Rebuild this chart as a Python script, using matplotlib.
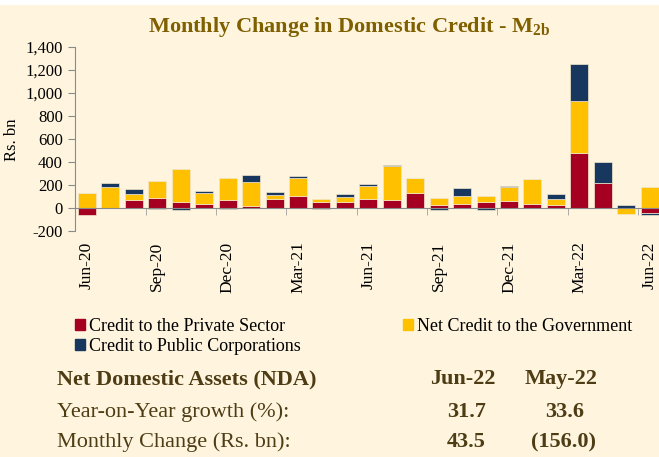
import matplotlib.pyplot as plt
import numpy as np
from matplotlib.patches import Patch
from matplotlib.ticker import FuncFormatter, FixedLocator

# Monthly change in domestic credit (Rs. bn)
months = ["Jun-20", "Jul-20", "Aug-20", "Sep-20", "Oct-20", "Nov-20", "Dec-20",
          "Jan-21", "Feb-21", "Mar-21", "Apr-21", "May-21", "Jun-21", "Jul-21",
          "Aug-21", "Sep-21", "Oct-21", "Nov-21", "Dec-21", "Jan-22", "Feb-22",
          "Mar-22", "Apr-22", "May-22", "Jun-22"]
private_sector = [-55, 0, 72, 90, 58, 40, 75, 23, 78, 110, 57, 52, 84, 75,
                  133, 29, 35, 57, 61, 35, 32, 481, 217, 0, -44]
government = [133, 185, 55, 145, 284, 96, 186, 208, 35, 148, 24, 49, 110, 287,
              125, 63, 72, 53, 124, 217, 46, 452, 0, -50, 180]
public_corps = [0, 32, 41, -10, -15, 14, -10, 61, 26, 23, -9, 23, 17, 15,
                0, -15, 70, -12, 5, 5, 49, 314, 183, 29, -17]

label_months = ["Jun-20", "Sep-20", "Dec-20", "Mar-21", "Jun-21", "Sep-21",
                "Dec-21", "Mar-22", "Jun-22"]

table_header = ["Jun-22", "May-22"]
yoy_growth = ["31.7", "33.6"]
monthly_change = ["43.5", "(156.0)"]

BG = "#FFF5DF"
RED = "#A50021"
YELLOW = "#FFC000"
BLUE = "#17375E"
BROWN = "#4E3D14"

plt.rcParams["font.family"] = ["Liberation Serif", "DejaVu Serif"]
plt.rcParams["mathtext.fontset"] = "custom"
plt.rcParams["mathtext.rm"] = "Liberation Serif"
plt.rcParams["mathtext.bf"] = "Liberation Serif:bold"

fig = plt.figure(figsize=(6.59, 4.57), dpi=100, facecolor=BG)
# thin white strip along the top
fig.patches.append(plt.Rectangle((0, 1 - 5 / 457), 1, 5 / 457, transform=fig.transFigure,
                                 facecolor="white", edgecolor="none", zorder=0))

ax = fig.add_axes([75.3 / 659, 1 - 231.3 / 457, 1 - 75.3 / 659, (231.3 - 46.7) / 457])
ax.set_facecolor(BG)

x = np.arange(len(months))
pos_bottom = np.zeros(len(months))
neg_bottom = np.zeros(len(months))
for vals, col in [(private_sector, RED), (government, YELLOW), (public_corps, BLUE)]:
    v = np.array(vals, dtype=float)
    bottom = np.where(v >= 0, pos_bottom, neg_bottom)
    ax.bar(x, v, bottom=bottom, width=0.77, color=col, edgecolor="#F3E6CC",
           linewidth=0.5, zorder=2)
    pos_bottom += np.where(v >= 0, v, 0)
    neg_bottom += np.where(v < 0, v, 0)

ax.set_xlim(-0.5, 24.4)
ax.set_ylim(-200, 1400)
ax.set_yticks(np.arange(-200, 1401, 200))
ax.yaxis.set_major_formatter(FuncFormatter(lambda v, p: f"{int(v):,}"))

for s in ["top", "right"]:
    ax.spines[s].set_visible(False)
ax.spines["left"].set_color("#8A8A8A")
ax.spines["bottom"].set_position(("data", 0))
ax.spines["bottom"].set_color("#8A8A8A")
ax.spines["bottom"].set_zorder(3)

label_pos = [months.index(m) for m in label_months]
ax.xaxis.set_major_locator(FixedLocator(label_pos))
ax.set_xticklabels(label_months, rotation=90)
ax.xaxis.set_minor_locator(FixedLocator(np.arange(2.5, 24, 3)))
ax.tick_params(axis="x", which="major", length=0, pad=24, labelsize=12.5)
ax.tick_params(axis="x", which="minor", length=5, color="#A0A0A0", direction="out")
ax.tick_params(axis="y", length=5, color="#8A8A8A", labelsize=12, pad=4)

fig.text(12 / 659, 1 - 140 / 457, "Rs. bn", rotation=90, ha="center", va="center",
         fontsize=12)

fig.text(349 / 659, 1 - 27 / 457, r"Monthly Change in Domestic Credit - M$_{\mathbf{2b}}$",
         ha="center", va="center", fontsize=16, fontweight="bold", color="#7F6000")

handles = [Patch(color=RED), Patch(color=BLUE), Patch(color=YELLOW)]
labels = ["Credit to the Private Sector", "Credit to Public Corporations",
          "Net Credit to the Government"]
fig.legend(handles, labels, ncol=2, loc="upper left",
           bbox_to_anchor=(66 / 659, 1 - 309 / 457), frameon=False, fontsize=13,
           handlelength=0.55, handleheight=0.55, handletextpad=0.2,
           columnspacing=5.7, labelspacing=0.15, borderpad=0)

fig.text(57 / 659, 1 - 379 / 457, "Net Domestic Assets (NDA)", ha="left", va="center",
         fontsize=16, fontweight="bold", color=BROWN)
fig.text(57 / 659, 1 - 412 / 457, "Year-on-Year growth (%):", ha="left", va="center",
         fontsize=16, color=BROWN)
fig.text(57 / 659, 1 - 442 / 457, "Monthly Change (Rs. bn):", ha="left", va="center",
         fontsize=16, color=BROWN)
for cx, head, g, m in zip([463, 561], table_header, yoy_growth, monthly_change):
    fig.text(cx / 659, 1 - 379 / 457, head, ha="center", va="center",
             fontsize=16, fontweight="bold", color=BROWN)
    fig.text((cx + 4) / 659, 1 - 412 / 457, g, ha="center", va="center",
             fontsize=16, fontweight="bold", color=BROWN)
    fig.text((cx + 3) / 659, 1 - 442 / 457, m, ha="center", va="center",
             fontsize=16, fontweight="bold", color=BROWN)

fig.savefig("out.png", dpi=100, facecolor=BG)
